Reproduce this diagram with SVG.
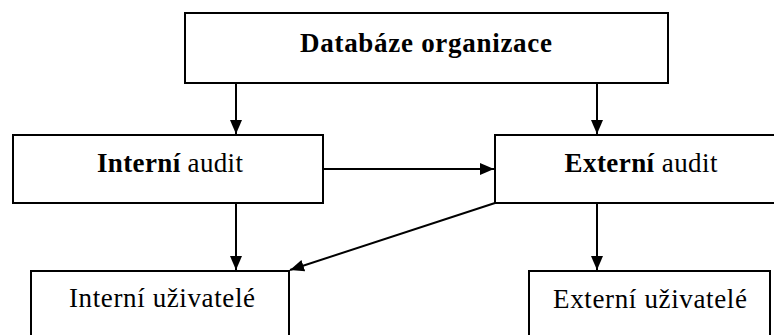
<svg xmlns="http://www.w3.org/2000/svg" width="774" height="335" viewBox="0 0 774 335">
<style>
.box{fill:#fff;stroke:#000;stroke-width:2}
.t{font-family:"Liberation Serif","Times New Roman",serif;font-size:27px;fill:#000;text-anchor:middle}
.b{font-weight:bold}
.c{stroke:#000;stroke-width:2;fill:none}
</style>
<defs>
<marker id="ah" markerUnits="userSpaceOnUse" markerWidth="14" markerHeight="14" viewBox="0 0 14 14" refX="14" refY="7" orient="auto">
<path d="M0,1 L14,7 L0,13 Z" fill="#000"/>
</marker>
</defs>
<rect width="774" height="335" fill="#fff"/>
<g id="connectors">
<line class="c" x1="236" y1="83" x2="236" y2="134" marker-end="url(#ah)"/>
<line class="c" x1="597" y1="83" x2="597" y2="134" marker-end="url(#ah)"/>
<line class="c" x1="323" y1="169" x2="494" y2="169" marker-end="url(#ah)"/>
<line class="c" x1="236" y1="203" x2="236" y2="270" marker-end="url(#ah)"/>
<line class="c" x1="597" y1="203" x2="597" y2="270" marker-end="url(#ah)"/>
<line class="c" x1="495" y1="203" x2="290" y2="270" stroke-width="1.6" marker-end="url(#ah)"/>
</g>
<g id="node-db">
<rect class="box" x="185" y="13" width="483" height="70"/>
<text class="t b" x="426" y="52" textLength="252" lengthAdjust="spacing">Databáze organizace</text>
</g>
<g id="node-interni-audit">
<rect class="box" x="13" y="135" width="310" height="68"/>
<text class="t" x="170" y="172" textLength="146" lengthAdjust="spacing"><tspan class="b">Interní</tspan> audit</text>
</g>
<g id="node-externi-audit">
<rect class="box" x="495" y="135" width="300" height="68"/>
<text class="t" x="641" y="172" textLength="153" lengthAdjust="spacing"><tspan class="b">Externí</tspan> audit</text>
</g>
<g id="node-interni-uzivatele">
<rect class="box" x="31" y="271" width="258" height="80"/>
<text class="t" x="162" y="307" textLength="186" lengthAdjust="spacing">Interní uživatelé</text>
</g>
<g id="node-externi-uzivatele">
<rect class="box" x="529" y="271" width="241" height="80"/>
<text class="t" x="650" y="308" textLength="194" lengthAdjust="spacing">Externí uživatelé</text>
</g>
</svg>
